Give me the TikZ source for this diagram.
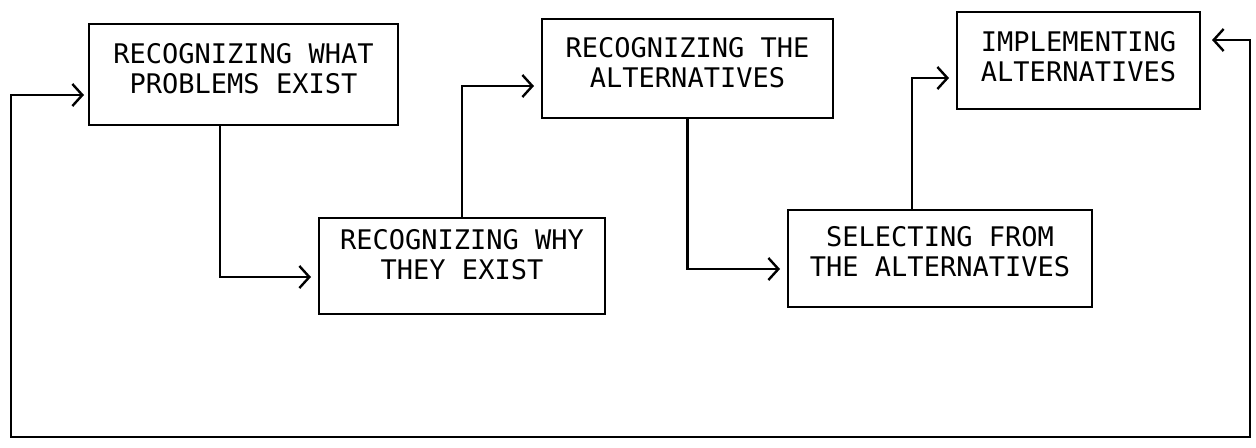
\documentclass[tikz,border=0pt]{standalone}
\usepackage{fontspec}
\newfontfamily\boxfont{DejaVu Sans Mono}
\usetikzlibrary{arrows.meta}
\newcommand{\liftlines}[2]{\raisebox{#1}[\height][\depth]{\begin{tabular}{@{}c@{}}#2\end{tabular}}}
\begin{document}
\begin{tikzpicture}[x=0.5pt,y=-0.5pt, line width=1.2pt,
  stagebox/.style={draw, line width=1.2pt, outer sep=0pt, inner sep=0pt,
    font=\boxfont\fontsize{13.5}{15}\selectfont},
  flow/.style={-{Straight Barb[length=5pt,width=11pt]}, shorten >=4pt},
  loopback/.style={{Straight Barb[length=5pt,width=11pt]}-{Straight Barb[length=5pt,width=11pt]},
    shorten <=2.5pt, shorten >=6pt}]
\useasboundingbox (0,0) rectangle (1256,447);

\node[stagebox, minimum width=154.5pt, minimum height=50.5pt] (B1) at (243.5,74.5)
  {\liftlines{1.25pt}{RECOGNIZING WHAT\\PROBLEMS EXIST}};
\node[stagebox, minimum width=143pt, minimum height=48pt] (B2) at (462,266)
  {\liftlines{4pt}{RECOGNIZING WHY\\THEY EXIST}};
\node[stagebox, minimum width=145.5pt, minimum height=49.5pt] (B3) at (687.5,68.5)
  {\liftlines{1.25pt}{RECOGNIZING THE\\ALTERNATIVES}};
\node[stagebox, minimum width=152pt, minimum height=48.5pt] (B4) at (940,258.5)
  {\liftlines{1.75pt}{SELECTING FROM\\THE ALTERNATIVES}};
\node[stagebox, minimum width=121.5pt, minimum height=48.5pt] (B5) at (1078.5,60.5)
  {\liftlines{0pt}{IMPLEMENTING\\ALTERNATIVES}};

\coordinate (fbL) at (11,437);
\coordinate (fbR) at (1250,437);

\draw[flow] ([xshift=-11.75pt]B1.south) |- ([yshift=-5.5pt]B2.west);
\draw[flow] (B2.north) |- ([yshift=-8.75pt]B3.west);
\draw[flow] (B3.south) |- ([yshift=-5.25pt]B4.west);
\draw[flow] ([xshift=-14pt]B4.north) |- ([yshift=-8.75pt]B5.west);
\draw[loopback] ([yshift=-10.25pt]B1.west) -| (fbL) -- (fbR) |- ([yshift=10.25pt]B5.east);
\end{tikzpicture}
\end{document}
